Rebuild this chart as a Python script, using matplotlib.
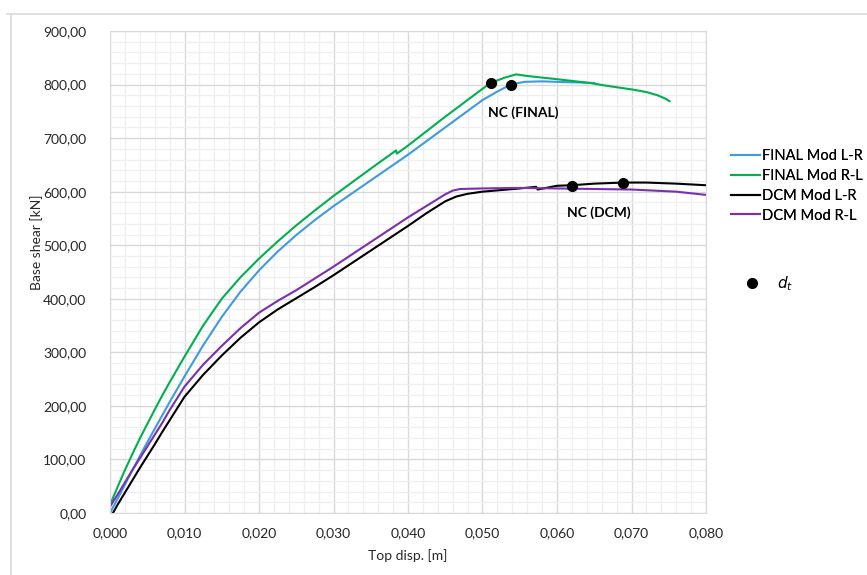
import matplotlib.pyplot as plt
from matplotlib.lines import Line2D
from matplotlib.ticker import FuncFormatter, MultipleLocator

# Pushover curves (top displacement [m], base shear [kN])
final_lr_x = [0.0, 0.001, 0.002, 0.003, 0.004, 0.005, 0.006, 0.007, 0.008, 0.009,
              0.010, 0.0125, 0.015, 0.0175, 0.020, 0.0225, 0.025, 0.0275, 0.030,
              0.035, 0.040, 0.045, 0.050, 0.052, 0.0538, 0.0556, 0.058, 0.060,
              0.0625, 0.065]
final_lr_y = [0, 26, 53, 80, 106, 132, 157, 182, 207, 231,
              255, 313, 366, 413, 453, 488, 519, 547, 573,
              621, 669, 720, 771, 787, 800, 805, 806, 805,
              804, 803]

final_rl_x = [0.0, 0.001, 0.002, 0.003, 0.004, 0.005, 0.006, 0.007, 0.008, 0.009,
              0.010, 0.0125, 0.015, 0.0175, 0.020, 0.0225, 0.025, 0.0275, 0.030,
              0.035, 0.0384, 0.0385, 0.040, 0.045, 0.050, 0.0511, 0.053, 0.0545,
              0.056, 0.058, 0.060, 0.0644, 0.067, 0.070, 0.072, 0.0735, 0.0745,
              0.0751]
final_rl_y = [15, 48, 80, 110, 139, 166, 193, 219, 244, 268,
              292, 350, 400, 440, 475, 507, 537, 565, 592,
              643, 677, 671, 686, 740, 792, 803, 813, 819,
              816, 813, 810, 803, 797, 791, 786, 780, 774,
              769]

dcm_lr_x = [0.0004, 0.001, 0.002, 0.003, 0.004, 0.005, 0.006, 0.007, 0.008, 0.009,
            0.010, 0.0125, 0.015, 0.0175, 0.020, 0.0225, 0.025, 0.0275, 0.030,
            0.035, 0.040, 0.0425, 0.045, 0.0465, 0.048, 0.050, 0.055, 0.0572,
            0.0574, 0.060, 0.062, 0.065, 0.0689, 0.072, 0.076, 0.080]
dcm_lr_y = [0, 15, 38, 61, 84, 106, 128, 151, 173, 195,
            217, 258, 294, 327, 356, 380, 401, 422, 444,
            490, 536, 560, 582, 591, 596, 600, 606, 609,
            604, 611, 612, 615, 617, 617, 615, 612]

dcm_rl_x = [0.0, 0.001, 0.002, 0.003, 0.004, 0.005, 0.006, 0.007, 0.008, 0.009,
            0.010, 0.0125, 0.015, 0.0175, 0.020, 0.0225, 0.025, 0.0275, 0.030,
            0.035, 0.040, 0.045, 0.046, 0.047, 0.050, 0.055, 0.060, 0.065,
            0.070, 0.076, 0.080]
dcm_rl_y = [12, 34, 57, 80, 102, 124, 146, 168, 192, 214,
            236, 277, 312, 345, 374, 396, 416, 438, 460,
            506, 552, 595, 602, 605, 606, 607, 606, 605,
            604, 600, 594]

# target displacement points (d_t)
dt_x = [0.0511, 0.0538, 0.0620, 0.0689]
dt_y = [803, 800, 611, 617]

series_labels = ["FINAL Mod L-R", "FINAL Mod R-L", "DCM Mod L-R", "DCM Mod R-L"]
series_colors = ["#3d9be0", "#00b050", "#000000", "#7b2fb0"]

plt.rcParams['font.family'] = ['Lato', 'DejaVu Sans']
plt.rcParams['font.size'] = 10

fig = plt.figure(figsize=(8.67, 5.75), dpi=100)
ax = fig.add_axes([110 / 867, 62 / 575, 596 / 867, 482 / 575])

curves = [(final_lr_x, final_lr_y), (final_rl_x, final_rl_y),
          (dcm_lr_x, dcm_lr_y), (dcm_rl_x, dcm_rl_y)]
handles = []
for (xs, ys), lab, col in zip(curves, series_labels, series_colors):
    h, = ax.plot(xs, ys, color=col, lw=1.5, label=lab, solid_joinstyle='round')
    handles.append(h)

dt_h, = ax.plot(dt_x, dt_y, 'o', color='black', ms=7, ls='none', label='$d_t$', zorder=5)

ax.text(0.0507, 747, "NC (FINAL)", fontweight='bold', fontsize=10, ha='left', va='center')
ax.text(0.0613, 560, "NC (DCM)", fontweight='bold', fontsize=10, ha='left', va='center')

ax.set_xlim(0, 0.080)
ax.set_ylim(0, 900)
ax.xaxis.set_major_locator(MultipleLocator(0.010))
ax.xaxis.set_minor_locator(MultipleLocator(0.002))
ax.yaxis.set_major_locator(MultipleLocator(100))
ax.yaxis.set_minor_locator(MultipleLocator(20))
ax.xaxis.set_major_formatter(FuncFormatter(lambda v, p: f"{v:.3f}".replace('.', ',')))
ax.yaxis.set_major_formatter(FuncFormatter(lambda v, p: f"{v:.2f}".replace('.', ',')))

ax.grid(True, which='major', color='#d9d9d9', lw=1.0)
ax.grid(True, which='minor', color='#efefef', lw=0.9)
ax.set_axisbelow(True)
for s in ax.spines.values():
    s.set_color('#d9d9d9')
ax.tick_params(which='both', length=0)
ax.tick_params(axis='y', pad=17, colors='#262626')
ax.tick_params(axis='x', pad=10, colors='#262626')

fig.text(408 / 867, 1 - 556 / 575, "Top disp. [m]", ha='center', va='center', color='#262626')
fig.text(37 / 867, 1 - 242 / 575, "Base shear [kN]", rotation=90,
         ha='center', va='center', color='#262626')

leg = fig.legend(handles=handles, loc='upper left', bbox_to_anchor=(731 / 867, 1 - 149 / 575),
                 frameon=False, handlelength=2.0, handletextpad=0.1, labelspacing=0.4,
                 fontsize=10.5, borderaxespad=0, borderpad=0)
fig.legend(handles=[dt_h], loc='upper left', bbox_to_anchor=(737 / 867, 1 - 274 / 575),
           frameon=False, handletextpad=0.6, fontsize=11, borderaxespad=0, borderpad=0)
fig.add_artist(leg)

# chart area border
fig.add_artist(Line2D([7 / 867, 1], [1 - 14 / 575, 1 - 14 / 575], color='#d9d9d9', lw=1.2))
fig.add_artist(Line2D([11 / 867, 11 / 867], [0, 1 - 14 / 575], color='#d9d9d9', lw=1.2))

fig.savefig("out.png", dpi=100)
